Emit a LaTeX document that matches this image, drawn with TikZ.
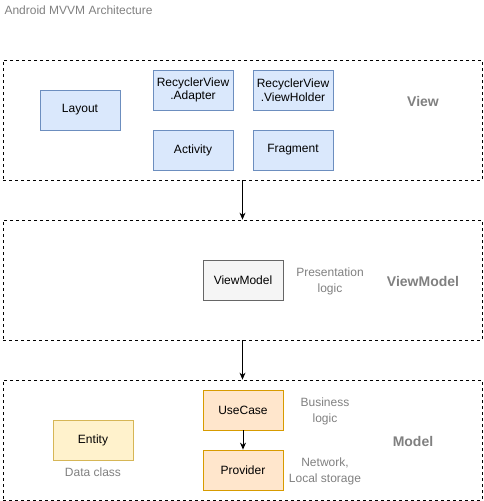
\documentclass[tikz,border=0pt]{standalone}
\usepackage{fontspec}
\setmainfont{Liberation Sans}
\usepackage{xcolor}
\usetikzlibrary{positioning}
\usetikzlibrary{arrows.meta}

\definecolor{viewfill}{HTML}{DAE8FC}
\definecolor{viewline}{HTML}{6C8EBF}
\definecolor{vmfill}{HTML}{F5F5F5}
\definecolor{vmline}{HTML}{666666}
\definecolor{casefill}{HTML}{FFE6CC}
\definecolor{caseline}{HTML}{D79B00}
\definecolor{entfill}{HTML}{FFF2CC}
\definecolor{entline}{HTML}{D6B656}
\definecolor{labelgray}{HTML}{808080}

\begin{document}
\begin{tikzpicture}[x=1pt,y=-1pt,
   layer/.style={draw,dash pattern=on 3pt off 3pt,line width=0.8pt,
      minimum width=479pt,minimum height=120pt,inner sep=0pt},
   box/.style={draw,line width=0.8pt,minimum width=80pt,minimum height=40pt,
      inner sep=0pt,align=center,font=\fontsize{12}{13.5}\selectfont},
   viewbox/.style={box,fill=viewfill,draw=viewline},
   vmbox/.style={box,fill=vmfill,draw=vmline},
   casebox/.style={box,fill=casefill,draw=caseline},
   entbox/.style={box,fill=entfill,draw=entline},
   note/.style={text=labelgray,align=center,font=\fontsize{12}{16}\selectfont},
   layername/.style={text=labelgray,font=\fontsize{14}{16}\selectfont\bfseries},
   flow/.style={-{Stealth[length=7pt,width=6pt]},line width=1pt}]
   \useasboundingbox (0,0) rectangle (484,501);
   \node[text=labelgray,anchor=west,font=\fontsize{12}{14}\selectfont] (title) at (1,10) {Android MVVM Architecture};
   %
   \node[layer] (view) at (242.5,120) {};
   \node[layer] (vm) at (242.5,280) {};
   \node[layer] (model) at (242.5,440) {};
   %
   \node[viewbox] (layout) at (80,110) {Layout};
   \node[viewbox] (adapter) at (193,90) {RecyclerView\\.Adapter};
   \node[viewbox] (activity) at (193,150) {Activity};
   \node[viewbox] (holder) at (293,90) {RecyclerView\\.ViewHolder};
   \node[viewbox] (fragment) at (293,150) {Fragment};
   \node[layername] (viewname) at (423,101) {View};
   %
   \node[vmbox] (viewmodel) at (243,280) {ViewModel};
   \node[note] (presentation) at (330,281) {Presentation\\logic};
   \node[layername] (vmname) at (423,281) {ViewModel};
   %
   \node[entbox] (entity) at (93,440) {Entity};
   \node[note] (dataclass) at (93,472) {Data class};
   \node[casebox] (usecase) at (243,410) {UseCase};
   \node[casebox] (provider) at (243,470) {Provider};
   \node[note] (business) at (325,411) {Business\\logic};
   \node[note] (storage) at (325,471) {Network,\\Local storage};
   \node[layername] (modelname) at (413,441) {Model};
   %
   \draw[flow] (view) -- (vm);
   \draw[flow] (vm) -- (model);
   \draw[flow] (usecase) -- (provider);
   %
\end{tikzpicture}
\end{document}
